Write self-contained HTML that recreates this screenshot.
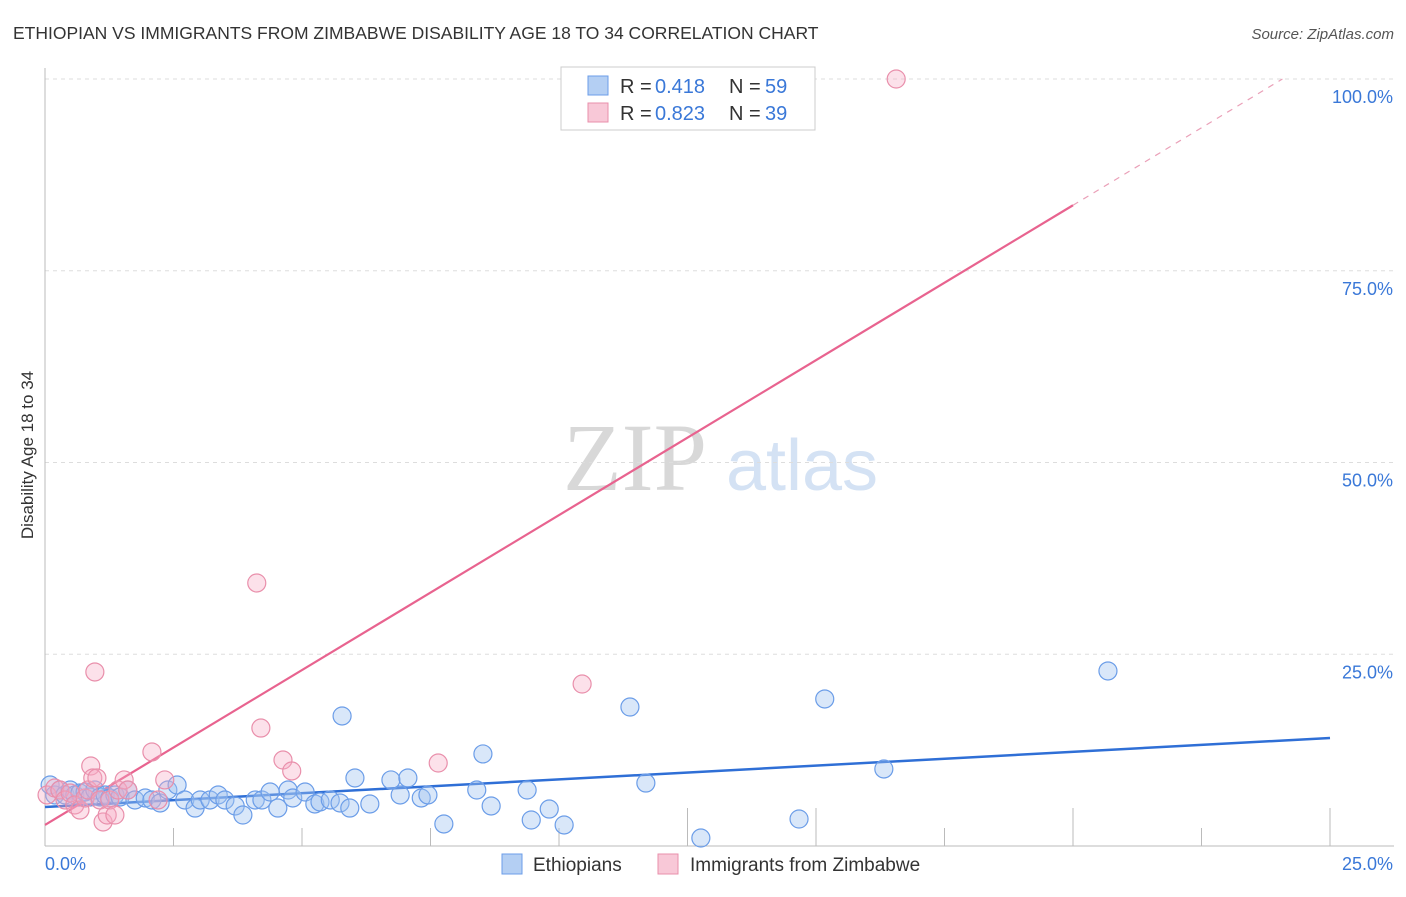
<!DOCTYPE html>
<html><head><meta charset="utf-8"><style>
body{margin:0;background:#fff;font-family:"Liberation Sans",sans-serif;}
</style></head><body>
<svg id="chart" width="1406" height="892" viewBox="0 0 1406 892" xmlns="http://www.w3.org/2000/svg" font-family="Liberation Sans, sans-serif">
<text x="13" y="39" font-size="17.5" fill="#333">ETHIOPIAN VS IMMIGRANTS FROM ZIMBABWE DISABILITY AGE 18 TO 34 CORRELATION CHART</text>
<text x="1394" y="39" font-size="15" fill="#555" text-anchor="end" font-style="italic">Source: ZipAtlas.com</text>
<text transform="translate(33,455) rotate(-90)" font-size="17" fill="#333" text-anchor="middle">Disability Age 18 to 34</text>
<g>
<text x="635" y="490" font-size="96" fill="#d8d8d8" style="font-family:'Liberation Serif',serif" text-anchor="middle">ZIP</text>
<text x="802" y="490" font-size="72" fill="#d4e2f4" text-anchor="middle">atlas</text>
</g>
<g id="grid"></g>
<g id="axes"></g>
<g id="lines"></g>
<g id="points"></g>
<g>
<rect x="561" y="67" width="254" height="63" fill="#fff" stroke="#ccc"/>
<rect x="588" y="76" width="20" height="19" fill="#b4cff3" stroke="#6b9de8"/>
<rect x="588" y="103" width="20" height="19" fill="#f8c8d7" stroke="#e98fab"/>
<text x="620" y="93" font-size="20" fill="#333">R =</text>
<text x="655" y="93" font-size="20" fill="#3a78d8">0.418</text>
<text x="729" y="93" font-size="20" fill="#333">N =</text>
<text x="765" y="93" font-size="20" fill="#3a78d8">59</text>
<text x="620" y="120" font-size="20" fill="#333">R =</text>
<text x="655" y="120" font-size="20" fill="#3a78d8">0.823</text>
<text x="729" y="120" font-size="20" fill="#333">N =</text>
<text x="765" y="120" font-size="20" fill="#3a78d8">39</text>
</g>
<g>
<rect x="502" y="854" width="20" height="20" fill="#b4cff3" stroke="#6b9de8"/>
<text x="533" y="871" font-size="19" fill="#333">Ethiopians</text>
<rect x="658" y="854" width="20" height="20" fill="#f8c8d7" stroke="#e98fab"/>
<text x="690" y="871" font-size="19" fill="#333">Immigrants from Zimbabwe</text>
</g>
</svg>
<script>
const xTicks=[0,2.5,5,7.5,10,12.5,15,17.5,20,22.5,25];
const yTicks=[25,50,75,100];
const yTickLabels=["25.0%","50.0%","75.0%","100.0%"];
const xEndLabels=["0.0%","25.0%"];
const ethX=[0.10,0.19,0.29,0.39,0.49,0.58,0.68,0.78,0.88,0.97,1.07,1.17,1.26,1.36,1.46,1.61,1.75,1.95,2.08,2.24,2.39,2.57,2.72,2.92,3.02,3.21,3.37,3.50,3.70,3.85,4.09,4.22,4.38,4.53,4.73,4.82,5.06,5.25,5.35,5.55,5.74,5.78,5.93,6.03,6.32,6.73,6.91,7.06,7.32,7.45,7.76,8.40,8.52,8.68,9.38,9.46,9.81,10.10,11.38,11.69,12.76,14.67,15.17,16.32,20.68];
const ethY=[7.95,6.65,7.30,6.65,7.30,6.65,6.91,7.04,6.39,7.30,6.39,6.65,6.26,6.65,6.39,7.30,6.00,6.26,6.00,5.61,7.30,7.95,6.00,4.95,6.00,6.00,6.65,6.00,5.22,4.04,6.00,6.00,7.04,4.95,7.30,6.26,7.04,5.48,5.74,6.00,5.61,16.95,4.95,8.87,5.48,8.61,6.65,8.87,6.26,6.65,2.87,7.30,12.00,5.22,7.30,3.39,4.82,2.74,18.12,8.21,1.04,3.52,19.17,10.04,22.82];
const zimX=[0.04,0.19,0.29,0.39,0.49,0.58,0.68,0.78,0.84,0.89,0.93,0.97,1.01,1.07,1.13,1.21,1.26,1.36,1.42,1.54,1.61,2.08,2.20,2.33,4.12,4.20,4.63,4.80,7.65,10.45,16.56];
const zimY=[6.65,7.56,7.30,6.00,6.91,5.35,4.69,6.26,7.30,10.43,8.87,22.69,8.87,6.00,3.13,4.04,6.00,4.04,7.30,8.61,7.30,12.26,6.00,8.61,34.29,15.38,11.21,9.78,10.82,21.12,100.0];
const ethTrend=[5.08,14.08];
const zimTrend=[2.74,4.04];
const NS="http://www.w3.org/2000/svg";
const X0=45,X1=1330,Y0=846,Y100=79;
function sx(v){return X0+(v/25)*(X1-X0);}
function sy(v){return Y0-(v/100)*(Y0-Y100);}
function mk(tag,attrs,parent){const e=document.createElementNS(NS,tag);for(const k in attrs)e.setAttribute(k,attrs[k]);document.getElementById(parent).appendChild(e);return e;}
yTicks.forEach((t,i)=>{
 const g=mk('line',{x1:X0,x2:1394,y1:sy(t),y2:sy(t),stroke:'#ddd','stroke-dasharray':'4,4'},'grid');
 
 
 const l=mk('text',{x:1393,y:sy(t)+24,'font-size':18,fill:'#3a78d8','text-anchor':'end'},'axes');
 l.textContent=yTickLabels[i];
 
 
});
const ax=mk('line',{x1:X0,x2:X0,y1:68,y2:Y0,stroke:'#bbb'},'axes');


const bx=mk('line',{x1:X0,x2:1394,y1:Y0,y2:Y0,stroke:'#bbb'},'axes');


const longTicks=[5,6,8,10];
xTicks.forEach((t,i)=>{
 if(i===0)return;
 const tk=mk('line',{x1:sx(t),x2:sx(t),y1:longTicks.includes(i)?808:828,y2:Y0,stroke:'#bbb'},'axes');
 
 
});
[[0,'start',X0],[1,'end',1393]].forEach(([i,a,x])=>{
 const l=mk('text',{x:x,y:870,'font-size':18,fill:'#3a78d8','text-anchor':a},'axes');
 l.textContent=xEndLabels[i];
 
 
});
const bl=mk('line',{x1:sx(0),y1:sy(ethTrend[0]),x2:sx(25),y2:sy(ethTrend[1]),stroke:'#2f6fd6','stroke-width':2.5},'lines');


const zEnd=20;
const pl=mk('line',{x1:sx(0),y1:sy(zimTrend[0]),x2:sx(zEnd),y2:sy(zimTrend[0]+zimTrend[1]*zEnd),stroke:'#e8638f','stroke-width':2.2},'lines');


const xMax=(100-zimTrend[0])/zimTrend[1];
const pd=mk('line',{x1:sx(zEnd),y1:sy(zimTrend[0]+zimTrend[1]*zEnd),x2:sx(xMax),y2:sy(100),stroke:'#eaa0b8','stroke-width':1.2,'stroke-dasharray':'6,6'},'lines');


ethX.forEach((x,i)=>{
 const c=mk('circle',{cx:sx(x),cy:sy(ethY[i]),r:9,fill:'rgba(160,196,240,0.4)',stroke:'#6b9de8','stroke-width':1.2},'points');
 
 
});
zimX.forEach((x,i)=>{
 const c=mk('circle',{cx:sx(x),cy:sy(zimY[i]),r:9,fill:'rgba(245,170,195,0.35)',stroke:'#e98fab','stroke-width':1.2},'points');
 
 
});
</script>
</body></html>
